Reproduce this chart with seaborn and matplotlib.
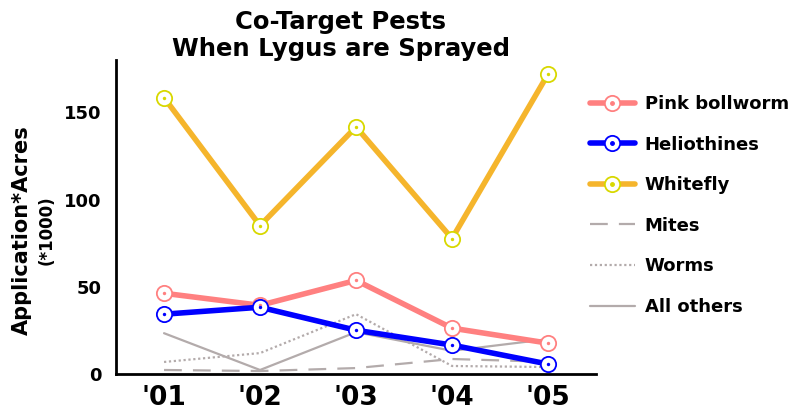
import matplotlib
matplotlib.use("Agg")
import matplotlib.pyplot as plt
import seaborn as sns
from matplotlib.lines import Line2D
from matplotlib.legend_handler import HandlerTuple

years = ["'01", "'02", "'03", "'04", "'05"]
pink_bollworm = [46.3, 39.4, 53.7, 26.3, 17.7]
heliothines = [34.3, 38.3, 25.1, 16.6, 5.7]
whitefly = [158.5, 85.1, 141.7, 77.7, 172.0]
mites = [2.3, 1.7, 3.4, 8.6, 7.0]
worms = [6.9, 12.0, 34.3, 4.6, 4.0]
all_others = [23.4, 2.3, 24.0, 13.3, 20.0]

sns.set_style("white")
plt.rcParams['font.family'] = ['DejaVu Sans']
plt.rcParams['text.color'] = 'black'
plt.rcParams['xtick.color'] = 'black'
plt.rcParams['ytick.color'] = 'black'

fig = plt.figure(figsize=(7.91, 4.15), dpi=100)
ax = fig.add_axes([0.1467, 0.0988, 0.6068, 0.7562])

x = [1, 2, 3, 4, 5]
gray = '#b3abab'

sns.lineplot(x=x, y=mites, ax=ax, color=gray, lw=1.6, linestyle=(0, (8, 5)))
sns.lineplot(x=x, y=worms, ax=ax, color=gray, lw=1.6, linestyle=(0, (1, 1.2)))
sns.lineplot(x=x, y=all_others, ax=ax, color=gray, lw=1.6)

main = [
    ("Pink bollworm", pink_bollworm, '#ff8080', '#ff8080'),
    ("Heliothines", heliothines, '#0000ff', '#0000ff'),
    ("Whitefly", whitefly, '#f5b52c', '#d8d800'),
]
for name, vals, lc, mc in main:
    sns.lineplot(x=x, y=vals, ax=ax, color=lc, lw=4, marker='o', markersize=11,
                 markerfacecolor='white', markeredgecolor=mc, markeredgewidth=1.3)
    sns.scatterplot(x=x, y=vals, ax=ax, color=mc, s=6, linewidth=0, zorder=5)

ax.set_xlim(0.5, 5.5)
ax.set_ylim(0, 180)
ax.set_xticks([0.5, 1.5, 2.5, 3.5, 4.5, 5.5])
ax.set_xticklabels([])
ax.set_xticks(x, minor=True)
ax.set_xticklabels(years, minor=True, fontsize=19, fontweight='bold')
ax.tick_params(axis='x', which='minor', length=0, pad=8)
ax.tick_params(axis='x', which='major', length=7, width=2, direction='out')
ax.set_yticks([0, 50, 100, 150])
ax.tick_params(axis='y', length=7, width=2, direction='out', labelsize=13)
for t in ax.get_yticklabels():
    t.set_fontweight('bold')
for s in ['top', 'right']:
    ax.spines[s].set_visible(False)
for s in ['left', 'bottom']:
    ax.spines[s].set_linewidth(2)
    ax.spines[s].set_color('black')

fig.text(0.431, 0.975, "Co-Target Pests\nWhen Lygus are Sprayed", ha='center', va='top',
         fontsize=17.5, fontweight='bold', linespacing=1.15)
fig.text(0.028, 0.446, "Application*Acres", rotation=90, ha='center', va='center',
         fontsize=15, fontweight='bold')
fig.text(0.059, 0.446, "(*1000)", rotation=90, ha='center', va='center',
         fontsize=12, fontweight='bold')

handles = []
labels = []
for name, vals, lc, mc in main:
    ln = Line2D([], [], color=lc, lw=4, marker='o', markersize=11,
                markerfacecolor='white', markeredgecolor=mc, markeredgewidth=1.3)
    dot = Line2D([], [], color=mc, lw=0, marker='o', markersize=2.5)
    handles.append((ln, dot))
    labels.append(name)
handles.append(Line2D([], [], color=gray, lw=1.6, linestyle=(0, (8, 5))))
labels.append("Mites")
handles.append(Line2D([], [], color=gray, lw=1.6, linestyle=(0, (1, 1.2))))
labels.append("Worms")
handles.append(Line2D([], [], color=gray, lw=1.6))
labels.append("All others")

leg = fig.legend(handles, labels, loc='upper left', bbox_to_anchor=(0.725, 0.81),
                 frameon=False, handler_map={tuple: HandlerTuple(ndivide=1)},
                 handlelength=2.5, handletextpad=0.55, labelspacing=1.25,
                 prop={'weight': 'bold', 'size': 13})

fig.savefig("out.png", dpi=100)
